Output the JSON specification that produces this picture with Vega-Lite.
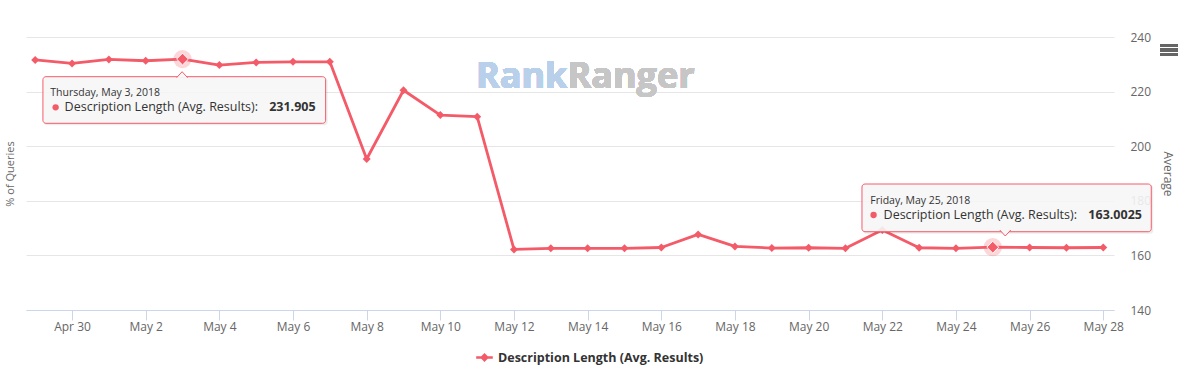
{
  "$schema": "https://vega.github.io/schema/vega-lite/v6.json",
  "width": 1088,
  "height": 273,
  "autosize": "none",
  "padding": {"left": 26, "top": 37, "right": 77, "bottom": 69},
  "background": "#ffffff",
  "config": {"view": {"stroke": null}, "font": "Open Sans"},
  "data": {
    "values": [
      {"date": "2018-04-29", "value": 231.6},
      {"date": "2018-04-30", "value": 230.3},
      {"date": "2018-05-01", "value": 231.8},
      {"date": "2018-05-02", "value": 231.3},
      {"date": "2018-05-03", "value": 231.905},
      {"date": "2018-05-04", "value": 229.7},
      {"date": "2018-05-05", "value": 230.7},
      {"date": "2018-05-06", "value": 230.9},
      {"date": "2018-05-07", "value": 230.9},
      {"date": "2018-05-08", "value": 195.3},
      {"date": "2018-05-09", "value": 220.5},
      {"date": "2018-05-10", "value": 211.4},
      {"date": "2018-05-11", "value": 210.8},
      {"date": "2018-05-12", "value": 162.2},
      {"date": "2018-05-13", "value": 162.6},
      {"date": "2018-05-14", "value": 162.6},
      {"date": "2018-05-15", "value": 162.6},
      {"date": "2018-05-16", "value": 162.9},
      {"date": "2018-05-17", "value": 167.7},
      {"date": "2018-05-18", "value": 163.3},
      {"date": "2018-05-19", "value": 162.7},
      {"date": "2018-05-20", "value": 162.8},
      {"date": "2018-05-21", "value": 162.6},
      {"date": "2018-05-22", "value": 169.3},
      {"date": "2018-05-23", "value": 162.8},
      {"date": "2018-05-24", "value": 162.6},
      {"date": "2018-05-25", "value": 163.0025},
      {"date": "2018-05-26", "value": 162.9},
      {"date": "2018-05-27", "value": 162.8},
      {"date": "2018-05-28", "value": 162.9}
    ]
  },
  "resolve": {"axis": {"y": "independent"}},
  "encoding": {
    "x": {
      "field": "date", "type": "temporal",
      "scale": {"type": "utc", "domain": [{"year": 2018, "month": 4, "date": 28, "hours": 18, "utc": true}, {"year": 2018, "month": 5, "date": 28, "hours": 7, "utc": true}]},
      "axis": {
        "title": null, "format": "%b %-d", "grid": false,
        "values": [
          {"year": 2018, "month": 4, "date": 30, "utc": true},
          {"year": 2018, "month": 5, "date": 2, "utc": true},
          {"year": 2018, "month": 5, "date": 4, "utc": true},
          {"year": 2018, "month": 5, "date": 6, "utc": true},
          {"year": 2018, "month": 5, "date": 8, "utc": true},
          {"year": 2018, "month": 5, "date": 10, "utc": true},
          {"year": 2018, "month": 5, "date": 12, "utc": true},
          {"year": 2018, "month": 5, "date": 14, "utc": true},
          {"year": 2018, "month": 5, "date": 16, "utc": true},
          {"year": 2018, "month": 5, "date": 18, "utc": true},
          {"year": 2018, "month": 5, "date": 20, "utc": true},
          {"year": 2018, "month": 5, "date": 22, "utc": true},
          {"year": 2018, "month": 5, "date": 24, "utc": true},
          {"year": 2018, "month": 5, "date": 26, "utc": true},
          {"year": 2018, "month": 5, "date": 28, "utc": true}
        ],
        "domainColor": "#ccd6eb", "domainWidth": 1,
        "tickColor": "#ccd6eb", "tickSize": 10, "tickWidth": 1,
        "labelFont": "Open Sans", "labelFontSize": 12, "labelColor": "#666666", "labelPadding": 1,
        "labelFlush": false, "labelOverlap": false
      }
    },
    "y": {"field": "value", "type": "quantitative", "scale": {"domain": [140, 240], "nice": false, "zero": false}, "axis": null}
  },
  "layer": [
    {
      "mark": {"type": "text", "text": "Rank", "align": "right", "baseline": "alphabetic", "font": "Open Sans", "fontWeight": "bold", "fontSize": 36, "color": "#b9d0ea"},
      "encoding": {
        "x": {"datum": {"year": 2018, "month": 5, "date": 13, "hours": 10, "minutes": 50, "utc": true}, "type": "temporal"},
        "y": {"datum": 221.2, "type": "quantitative", "axis": null}
      }
    },
    {
      "mark": {"type": "text", "text": "Ranger", "align": "left", "baseline": "alphabetic", "font": "Open Sans", "fontWeight": "bold", "fontSize": 36, "color": "#c6c6c6"},
      "encoding": {
        "x": {"datum": {"year": 2018, "month": 5, "date": 13, "hours": 10, "minutes": 50, "utc": true}, "type": "temporal"},
        "y": {"datum": 221.2, "type": "quantitative", "axis": null}
      }
    },
    {
      "mark": {"type": "line", "strokeWidth": 2.8, "color": "#f45b69", "strokeJoin": "round"},
      "encoding": {
        "y": {
          "field": "value", "type": "quantitative",
          "scale": {"domain": [140, 240], "nice": false, "zero": false},
          "axis": {
            "orient": "right", "values": [140, 160, 180, 200, 220, 240],
            "grid": true, "gridColor": "#e6e6e6", "gridWidth": 1,
            "domain": false, "ticks": false,
            "labelFont": "Open Sans", "labelFontSize": 12, "labelColor": "#666666", "labelPadding": 16, "labelAlign": "left",
            "title": "Average", "titleFont": "Open Sans", "titleFontSize": 12, "titleFontWeight": "normal", "titleColor": "#666666", "titlePadding": 10
          }
        },
        "color": {
          "datum": "Description Length (Avg. Results)",
          "scale": {"range": ["#f45b69"]},
          "legend": {
            "orient": "none", "legendX": 450, "legendY": 312, "direction": "horizontal", "title": null, "padding": 0,
            "symbolType": "M-1,-0.16H1V0.16H-1Z M0,-0.54L0.54,0L0,0.54L-0.54,0Z",
            "symbolSize": 276, "labelOffset": 5, "labelLimit": 400,
            "labelFont": "Open Sans", "labelFontSize": 12.5, "labelFontWeight": "bold", "labelColor": "#333333",
            "encode": {"symbols": {"update": {"fill": {"value": "#f45b69"}, "stroke": {"value": "#f45b69"}, "strokeWidth": {"value": 0}, "opacity": {"value": 1}}}}
          }
        }
      }
    },
    {
      "mark": {"type": "point", "shape": "diamond", "filled": true, "size": 64, "color": "#f45b69", "opacity": 1},
      "encoding": {
        "y": {
          "field": "value", "type": "quantitative",
          "scale": {"domain": [140, 240], "nice": false, "zero": false},
          "axis": {"orient": "left", "labels": false, "ticks": false, "domain": false, "grid": false, "title": "% of Queries", "titleFont": "Open Sans", "titleFontSize": 11, "titleFontWeight": "normal", "titleColor": "#666666", "titlePadding": 11}
        }
      }
    },
    {
      "transform": [{"filter": "utcmonth(datum.date) === 4 && (utcdate(datum.date) === 3 || utcdate(datum.date) === 25)"}],
      "layer": [
        {"mark": {"type": "point", "shape": "circle", "filled": true, "size": 330, "color": "#f45b69", "opacity": 0.25}},
        {"mark": {"type": "point", "shape": "diamond", "filled": true, "size": 140, "fill": "#f45b69", "stroke": "#ffffff", "strokeWidth": 1, "opacity": 1}}
      ]
    },
    {
      "transform": [{"filter": "utcmonth(datum.date) === 4 && utcdate(datum.date) === 3"}],
      "layer": [
        {"mark": {"type": "rect", "fill": "#000000", "opacity": 0.07, "cornerRadius": 3, "xOffset": -138.6, "x2Offset": 145.1, "yOffset": 18.6, "y2Offset": 66.2},
         "encoding": {"x2": {"field": "date"}, "y2": {"field": "value"}}},
        {"mark": {"type": "rect", "fill": "#f7f7f7", "fillOpacity": 0.9, "stroke": "#f45b69", "strokeWidth": 1, "cornerRadius": 3, "xOffset": -139.6, "x2Offset": 143.1, "yOffset": 17.6, "y2Offset": 64.2},
         "encoding": {"x2": {"field": "date"}, "y2": {"field": "value"}}},
        {"mark": {"type": "point", "shape": "M-1.1,1.2L0,0L1.1,1.2", "filled": true, "size": 100, "fill": "#f7f7f7", "stroke": "#f45b69", "strokeWidth": 1, "opacity": 1, "xOffset": -0.4, "yOffset": 12.6}},
        {"mark": {"type": "text", "align": "left", "baseline": "alphabetic", "dx": -132.2, "dy": 36.9, "font": "Open Sans", "fontSize": 10.5, "color": "#333333"},
         "encoding": {"text": {"field": "date", "type": "temporal", "timeUnit": "utcyearmonthdate", "format": "%A, %B %-d, %Y"}}},
        {"mark": {"type": "point", "shape": "circle", "filled": true, "size": 40, "color": "#f45b69", "opacity": 1, "xOffset": -126.9, "yOffset": 48.2}},
        {"mark": {"type": "text", "text": "Description Length (Avg. Results): ", "align": "left", "baseline": "alphabetic", "dx": -117.9, "dy": 51.9, "font": "Open Sans", "fontSize": 12.5, "color": "#333333"}},
        {"mark": {"type": "text", "align": "right", "baseline": "alphabetic", "dx": 133.1, "dy": 51.9, "font": "Open Sans", "fontSize": 12.5, "fontWeight": "bold", "color": "#333333"},
         "encoding": {"text": {"field": "value", "type": "nominal"}}}
      ]
    },
    {
      "transform": [{"filter": "utcmonth(datum.date) === 4 && utcdate(datum.date) === 25"}],
      "layer": [
        {"mark": {"type": "rect", "fill": "#000000", "opacity": 0.07, "cornerRadius": 3, "xOffset": -129.8, "x2Offset": 160.5, "yOffset": -62.2, "y2Offset": -13.5},
         "encoding": {"x2": {"field": "date"}, "y2": {"field": "value"}}},
        {"mark": {"type": "rect", "fill": "#f7f7f7", "fillOpacity": 0.9, "stroke": "#f45b69", "strokeWidth": 1, "cornerRadius": 3, "xOffset": -130.8, "x2Offset": 158.5, "yOffset": -63.2, "y2Offset": -15.5},
         "encoding": {"x2": {"field": "date"}, "y2": {"field": "value"}}},
        {"mark": {"type": "point", "shape": "M-1.1,-1.2L0,0L1.1,-1.2", "filled": true, "size": 100, "fill": "#f7f7f7", "stroke": "#f45b69", "strokeWidth": 1, "opacity": 1, "xOffset": 12.5, "yOffset": -11.2}},
        {"mark": {"type": "text", "align": "left", "baseline": "alphabetic", "dx": -122.5, "dy": -43.2, "font": "Open Sans", "fontSize": 10.5, "color": "#333333"},
         "encoding": {"text": {"field": "date", "type": "temporal", "timeUnit": "utcyearmonthdate", "format": "%A, %B %-d, %Y"}}},
        {"mark": {"type": "point", "shape": "circle", "filled": true, "size": 40, "color": "#f45b69", "opacity": 1, "xOffset": -119.2, "yOffset": -32.2}},
        {"mark": {"type": "text", "text": "Description Length (Avg. Results): ", "align": "left", "baseline": "alphabetic", "dx": -109.2, "dy": -28.2, "font": "Open Sans", "fontSize": 12.5, "color": "#333333"}},
        {"mark": {"type": "text", "align": "right", "baseline": "alphabetic", "dx": 149.2, "dy": -28.2, "font": "Open Sans", "fontSize": 12.5, "fontWeight": "bold", "color": "#333333"},
         "encoding": {"text": {"field": "value", "type": "nominal"}}}
      ]
    },
    {
      "mark": {"type": "point", "shape": "M-1,-0.67H1V-0.39H-1Z M-1,-0.14H1V0.14H-1Z M-1,0.39H1V0.67H-1Z", "filled": true, "size": 300, "color": "#666666", "opacity": 1},
      "encoding": {
        "x": {"datum": {"year": 2018, "month": 5, "date": 29, "hours": 18, "minutes": 45, "utc": true}, "type": "temporal"},
        "y": {"datum": 235.24, "type": "quantitative", "axis": null}
      }
    }
  ]
}
